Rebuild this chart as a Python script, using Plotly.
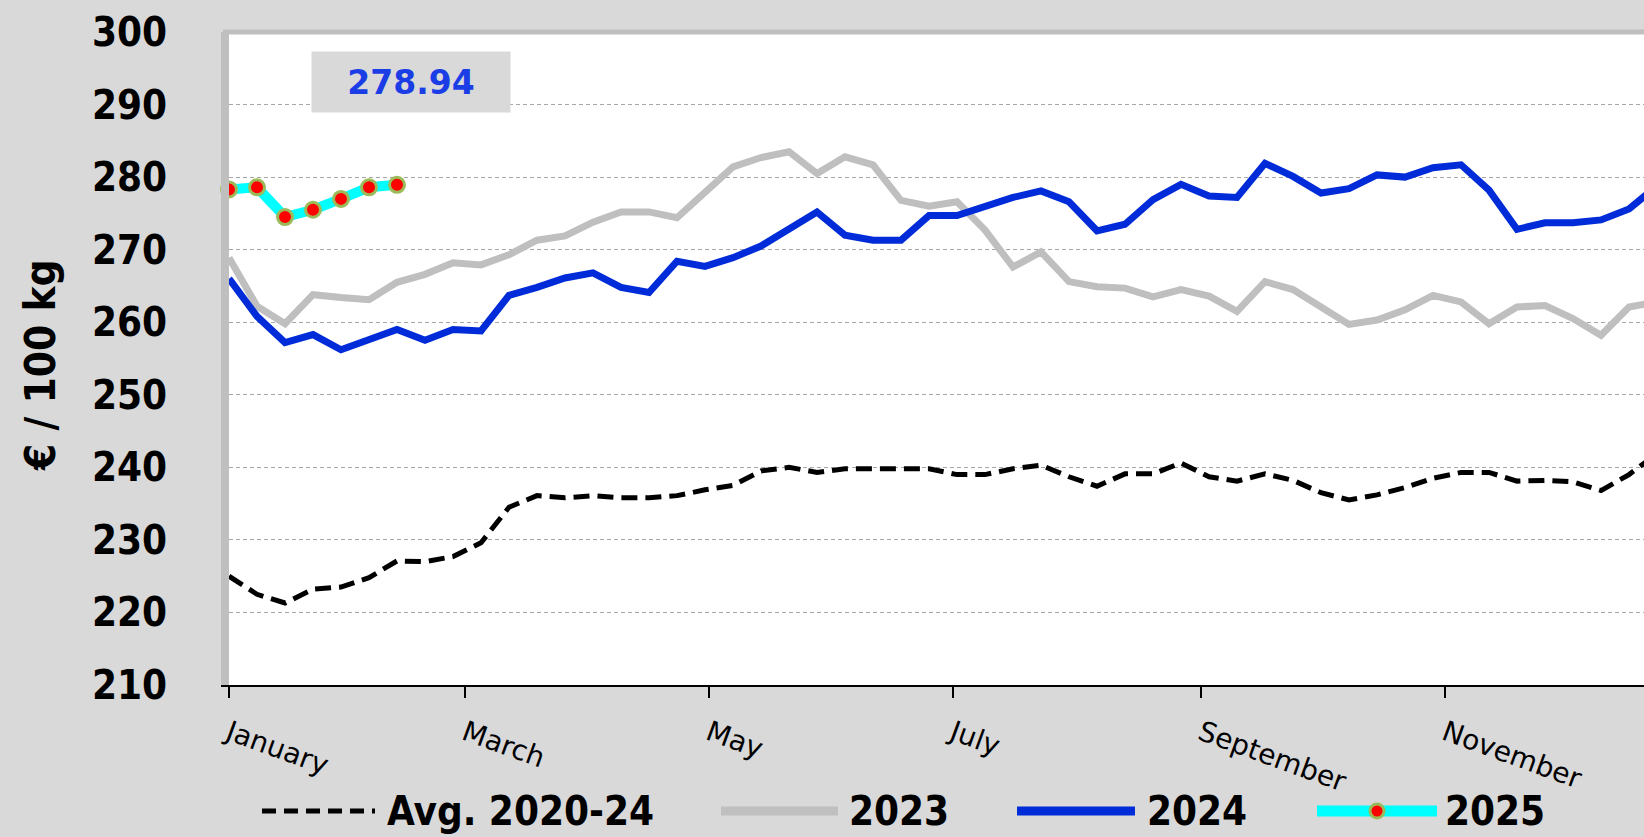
import pandas as pd
import plotly.graph_objects as go

# weekly prices, EUR / 100 kg (week 1 = first week of January)
AVG_2020_24 = [225.0, 222.5, 221.3, 223.2, 223.5, 224.8, 227.1, 227.0, 227.7, 229.6,
               234.5, 236.1, 235.8, 236.1, 235.8, 235.8, 236.1, 236.9, 237.5, 239.5,
               240.0, 239.3, 239.8, 239.8, 239.8, 239.8, 239.0, 239.0, 239.8, 240.3,
               238.7, 237.4, 239.1, 239.1, 240.6, 238.7, 238.1, 239.1, 238.2, 236.5,
               235.5, 236.2, 237.2, 238.5, 239.3, 239.3, 238.1, 238.2, 238.0, 236.8,
               239.0, 241.9]
PRICES_2023 = [268.9, 262.2, 259.8, 263.8, 263.4, 263.1, 265.5, 266.6, 268.2, 267.9,
               269.3, 271.3, 271.9, 273.8, 275.2, 275.2, 274.4, 278.0, 281.4, 282.7,
               283.5, 280.5, 282.8, 281.7, 276.8, 276.0, 276.6, 272.7, 267.6, 269.7,
               265.6, 264.9, 264.7, 263.5, 264.5, 263.6, 261.5, 265.6, 264.5, 262.1,
               259.7, 260.3, 261.7, 263.7, 262.8, 259.8, 262.1, 262.3, 260.5, 258.2,
               262.1, 262.8]
PRICES_2024 = [266.0, 260.8, 257.2, 258.3, 256.2, 257.5, 259.0, 257.5, 259.0, 258.8,
               263.7, 264.8, 266.1, 266.8, 264.8, 264.1, 268.4, 267.7, 268.9, 270.5,
               272.9, 275.2, 272.0, 271.3, 271.3, 274.7, 274.7, 275.9, 277.2, 278.1,
               276.6, 272.6, 273.5, 276.9, 279.0, 277.4, 277.2, 281.9, 280.1, 277.8,
               278.4, 280.3, 280.0, 281.3, 281.7, 278.2, 272.8, 273.7, 273.7, 274.1,
               275.6, 278.8]
PRICES_2025 = [278.3, 278.6, 274.5, 275.5, 277.0, 278.6, 278.94]
LATEST = "278.94"

MONTH_TICKS = ["2025-01-01", "2025-03-01", "2025-05-01",
               "2025-07-01", "2025-09-01", "2025-11-01"]
MONTH_LABELS = ["January", "March", "May", "July", "September", "November"]

COLORS = {
    "avg": "#000000",
    "2023": "#bfbfbf",
    "2024": "#002bd8",
    "2025": "#00ffff",
    "marker": "#ff0000",
    "marker_line": "#9bbb59",
    "label": "#1a3de6",
    "bg": "#d9d9d9",
}

W, H = 1644, 837
ML, MR, MT, MB = 229, 0, 32, 152
FONT = "DejaVu Sans"
FONT_C = "DejaVu Sans Condensed, DejaVu Sans"


def px_x(x):
    return (x - ML) / (W - ML - MR)


def px_y(y):
    return (H - MB - y) / (H - MT - MB)


def weeks(n):
    return pd.date_range("2025-01-01", periods=n, freq="7D")


fig = go.Figure()
fig.add_trace(go.Scatter(
    x=weeks(len(AVG_2020_24)), y=AVG_2020_24, mode="lines", name="Avg. 2020-24",
    line=dict(color=COLORS["avg"], width=5, dash="16px,8px"),
))
fig.add_trace(go.Scatter(
    x=weeks(len(PRICES_2023)), y=PRICES_2023, mode="lines", name="2023",
    line=dict(color=COLORS["2023"], width=7),
))
fig.add_trace(go.Scatter(
    x=weeks(len(PRICES_2024)), y=PRICES_2024, mode="lines", name="2024",
    line=dict(color=COLORS["2024"], width=7),
))
fig.add_trace(go.Scatter(
    x=weeks(len(PRICES_2025)), y=PRICES_2025, mode="lines+markers", name="2025",
    line=dict(color=COLORS["2025"], width=10),
    marker=dict(size=15, color=COLORS["marker"],
                line=dict(color=COLORS["marker_line"], width=3)),
    cliponaxis=False,
))

fig.update_layout(
    width=W, height=H, autosize=False,
    margin=dict(l=ML, r=MR, t=MT, b=MB, pad=0),
    paper_bgcolor=COLORS["bg"],
    plot_bgcolor="white",
    showlegend=False,
    font=dict(family=FONT, color="black"),
)
fig.update_xaxes(
    type="date",
    range=["2025-01-01", "2025-12-20 18:00"],
    tickvals=MONTH_TICKS, ticktext=MONTH_LABELS,
    tickangle=20,
    tickfont=dict(family=FONT, size=28),
    ticks="outside", ticklen=11, tickwidth=1.5, tickcolor="black",
    ticklabelstandoff=8,
    showline=True, linecolor="black", linewidth=2,
    showgrid=False, zeroline=False,
)
fig.update_yaxes(
    range=[210, 300], tickvals=list(range(210, 301, 10)),
    tickfont=dict(family=FONT_C, size=40, weight="bold"),
    ticklabelstandoff=46,
    showline=True, linecolor="#bfbfbf", linewidth=8,
    showgrid=True, gridcolor="#a6a6a6", gridwidth=1, griddash="4px,3px",
    zeroline=False,
)

# top frame line
fig.add_shape(type="line", xref="paper", yref="paper", x0=px_x(223), x1=1, y0=1, y1=1,
              line=dict(color="#bfbfbf", width=5), layer="above")

# latest value box
fig.add_annotation(
    xref="paper", yref="paper", x=px_x(411), y=px_y(82),
    xanchor="center", yanchor="middle",
    text=f"<b>{LATEST}</b>", showarrow=False,
    width=196, height=58, bgcolor=COLORS["bg"],
    font=dict(family=FONT, size=33, color=COLORS["label"]),
)

# y axis title
fig.add_annotation(
    xref="paper", yref="paper", x=px_x(40), y=px_y(365),
    xanchor="center", yanchor="middle",
    text="<b>€ / 100 kg</b>", textangle=-90, showarrow=False,
    font=dict(family=FONT_C, size=42, color="black"),
)

# legend drawn below the axis
LEG_Y = 811
legend_items = [
    ("Avg. 2020-24", 262, 375, 385, dict(color=COLORS["avg"], width=5, dash="14px,8px")),
    ("2023", 721, 838, 847, dict(color=COLORS["2023"], width=9)),
    ("2024", 1017, 1135, 1145, dict(color=COLORS["2024"], width=9)),
    ("2025", 1317, 1437, 1443, dict(color=COLORS["2025"], width=11)),
]
for label, x0, x1, xt, line in legend_items:
    fig.add_shape(type="line", xref="paper", yref="paper",
                  x0=px_x(x0), x1=px_x(x1), y0=px_y(LEG_Y), y1=px_y(LEG_Y), line=line)
    fig.add_annotation(
        xref="paper", yref="paper", x=px_x(xt), y=px_y(LEG_Y),
        xanchor="left", yanchor="middle", text=f"<b>{label}</b>", showarrow=False,
        font=dict(family=FONT_C, size=40, color="black"),
    )
fig.add_shape(type="circle", xref="paper", yref="paper",
              x0=px_x(1370), x1=px_x(1384), y0=px_y(LEG_Y - 7), y1=px_y(LEG_Y + 7),
              fillcolor=COLORS["marker"], line=dict(color=COLORS["marker_line"], width=3))

fig.write_html(
    "out.html",
    config={"displayModeBar": False},
    post_script="document.body.style.margin='0';"
                "document.body.style.background='#d9d9d9';"
                "document.body.style.overflow='hidden';",
)
